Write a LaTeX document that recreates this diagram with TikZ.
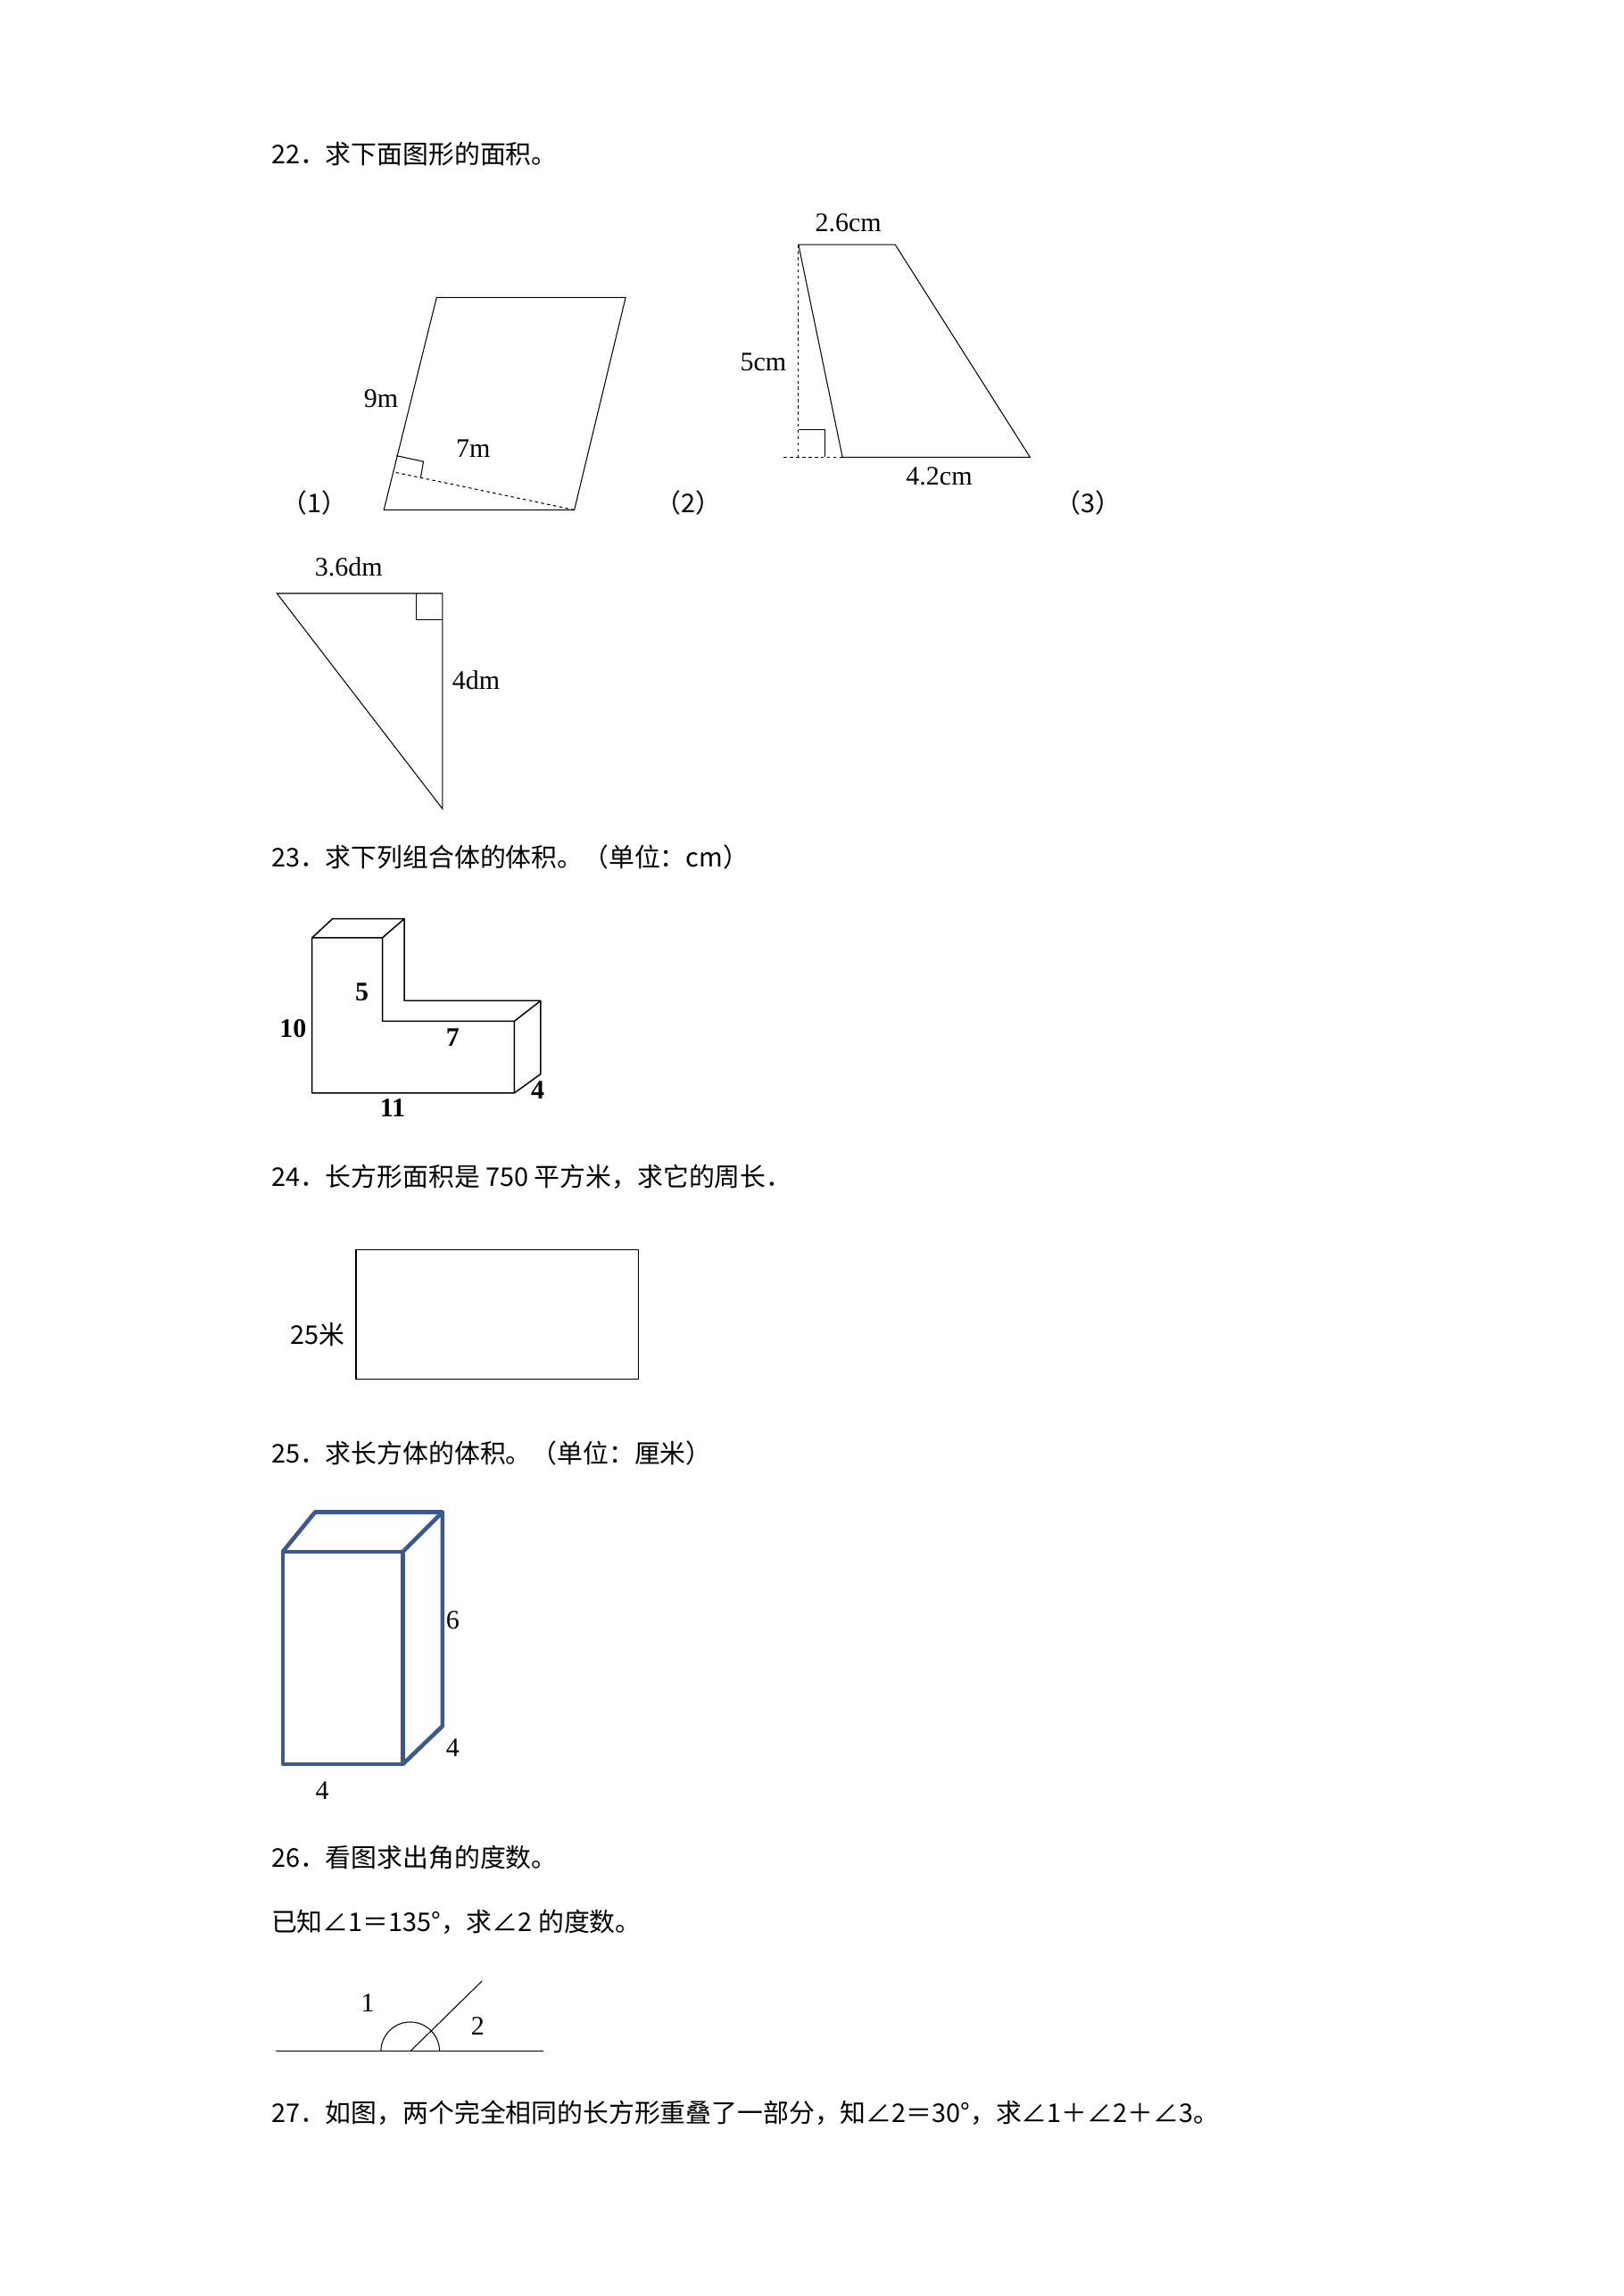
\documentclass[tikz,border=0pt]{standalone}
\usepackage{fontspec}
\setmainfont{Liberation Serif}
\newfontfamily\cjk{Noto Sans CJK SC}
\begin{document}
\begin{tikzpicture}[x=0.05cm,y=-0.05cm,
  ttl/.style={anchor=west,inner sep=0,font=\cjk\fontsize{25}{29}\selectfont},
  lbl/.style={inner sep=0,font=\fontsize{26}{30}\selectfont},
  blbl/.style={inner sep=0,font=\bfseries\fontsize{26}{30}\selectfont},
  ln/.style={line width=0.9pt},
  bl/.style={line width=4pt,draw={rgb,255:red,59;green,89;blue,140},line join=round}]
\useasboundingbox (0,0) rectangle (1108,1567);
% 22
\node[ttl] (t22) at (185,105) {22．求下面图形的面积。};
\draw[ln] (262,348) -- (392,348) -- (427,203) -- (298,203) -- cycle;
\coordinate (pa) at (392,348); \coordinate (pf) at (268,322);
\draw[ln,dashed] (pa) -- (pf);
\draw[ln] (270.5,311) -- (289,315) -- (287,326.5);
\node[lbl] (l9) at (260,272) {9m};
\node[lbl] (l7) at (323,306) {7m};
\node[ttl] (n1) at (192,343) {（1）};
\node[ttl] (n2) at (447,343) {（2）};
\node[ttl] (n3) at (720,343) {（3）};
\draw[ln] (545,167) -- (611,167) -- (703,312) -- (575,312) -- cycle;
\draw[ln,dashed] (545,167) -- (545,312) (535,312) -- (575,312);
\draw[ln] (545,293) -- (563,293) -- (563,312);
\node[lbl] (a1) at (579,152) {2.6cm};
\node[lbl] (a2) at (521,247) {5cm};
\node[lbl] (a3) at (641,325) {4.2cm};
\draw[ln] (189,405) -- (302,405) -- (302,552) -- cycle;
\draw[ln] (284,405) -- (284,423) -- (302,423);
\node[lbl] (b1) at (238,387) {3.6dm};
\node[lbl] (b2) at (325,464) {4dm};
% 23
\node[ttl] (t23) at (185,585) {23．求下列组合体的体积。（单位：cm）};
\draw[ln,line width=1.3pt,line join=round] (213,640) -- (261,640) -- (261,697) -- (351,697) -- (351,746) -- (213,746) -- cycle
 (213,640) -- (227,627) -- (276,627) -- (261,640)
 (276,627) -- (276,683) -- (369,683) -- (351,697)
 (369,683) -- (369,733) -- (351,746);
\node[blbl] (c1) at (247,677) {5};
\node[blbl] (c2) at (200,702) {10};
\node[blbl] (c3) at (309,708) {7};
\node[blbl] (c4) at (268,756) {11};
\node[blbl] (c5) at (367,744) {4};
% 24
\node[ttl] (t24) at (185,803) {24．长方形面积是 750 平方米，求它的周长．};
\draw[ln] (243,853) rectangle (436,941);
\node[lbl,font=\cjk\fontsize{25}{29}\selectfont] (d1) at (217,911) {25米};
% 25
\node[ttl] (t25) at (185,992) {25．求长方体的体积。（单位：厘米）};
\draw[bl] (193,1059) rectangle (275,1204);
\draw[bl] (193,1059) -- (215,1032) -- (302,1032) -- (275,1059)
 (302,1032) -- (302,1178) -- (275,1204);
\node[lbl] (e1) at (309,1106) {6};
\node[lbl] (e2) at (309,1193) {4};
\node[lbl] (e3) at (220,1222) {4};
% 26
\node[ttl] (t26) at (185,1268) {26．看图求出角的度数。};
\node[ttl] (t26b) at (185,1312) {已知∠1＝135°，求∠2 的度数。};
\coordinate (o) at (280,1400);
\draw[ln] (188,1400) -- (371,1400);
\draw[ln] (o) -- (329,1352);
\draw[ln] (300,1400) arc[start angle=0,end angle=-180,radius=20];
\node[lbl] (f1) at (251,1367) {1};
\node[lbl] (f2) at (326,1383) {2};
% 27
\node[ttl] (t27) at (185,1442) {27．如图，两个完全相同的长方形重叠了一部分，知∠2＝30°，求∠1＋∠2＋∠3。};
\end{tikzpicture}
\end{document}
